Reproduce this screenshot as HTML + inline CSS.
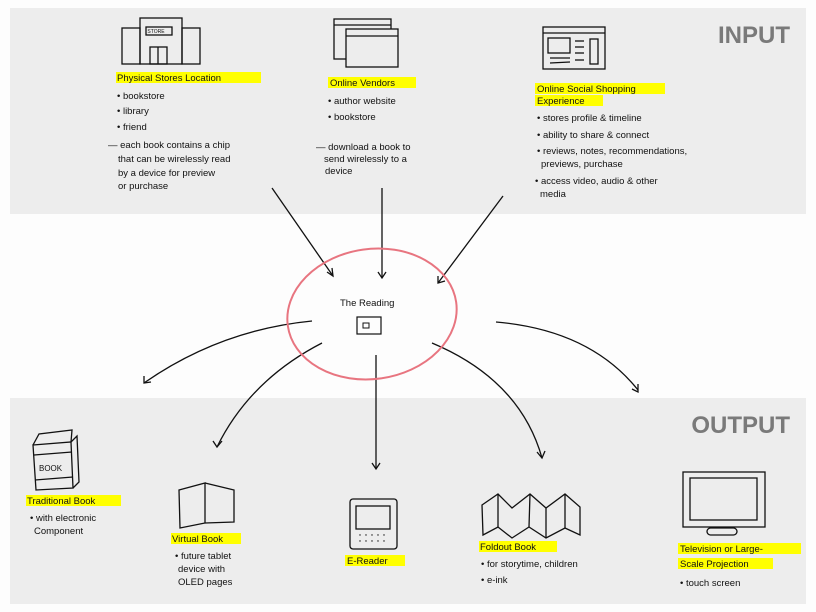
<!DOCTYPE html>
<html><head><meta charset="utf-8"><style>
html,body{margin:0;padding:0;background:#fff;}
svg{display:block}
text{font-family:"Liberation Sans",sans-serif;fill:#111;}
.t{font-size:9.5px;}
</style></head><body>
<svg width="816" height="612" viewBox="0 0 816 612" xmlns="http://www.w3.org/2000/svg">
<rect width="816" height="612" fill="#fdfdfd"/>
<rect x="10" y="8" width="796" height="206" fill="#ededed"/>
<rect x="10" y="398" width="796" height="206" fill="#ededed"/>
<text x="790" y="43" text-anchor="end" style="font-size:24px;font-weight:bold;fill:#7a7a7a;font-family:'Liberation Sans Narrow','Liberation Sans',sans-serif">INPUT</text>
<text x="790" y="433" text-anchor="end" style="font-size:24px;font-weight:bold;fill:#7a7a7a;font-family:'Liberation Sans Narrow','Liberation Sans',sans-serif">OUTPUT</text>
<g fill="none" stroke="#111" stroke-width="1.3">
<!-- store -->
<rect x="122" y="28" width="18" height="36"/><rect x="140" y="18" width="42" height="46"/><rect x="182" y="28" width="18" height="36"/>
<rect x="146" y="27" width="26" height="8"/><rect x="150" y="47" width="17" height="17"/><line x1="158" y1="47" x2="158" y2="64"/>
<!-- vendors -->
<rect x="334" y="19" width="57" height="40"/><line x1="334" y1="25" x2="391" y2="25"/>
<rect x="346" y="29" width="52" height="38" fill="#ededed"/><line x1="346" y1="36" x2="398" y2="36"/>
<!-- social -->
<rect x="543" y="27" width="62" height="42"/><line x1="543" y1="33" x2="605" y2="33"/>
<rect x="548" y="38" width="22" height="15"/><rect x="590" y="39" width="8" height="25"/>
<line x1="575" y1="41" x2="584" y2="41"/><line x1="575" y1="47" x2="584" y2="47"/><line x1="575" y1="53" x2="584" y2="53"/><line x1="575" y1="60" x2="584" y2="60"/>
<line x1="550" y1="58" x2="570" y2="58"/><line x1="550" y1="63" x2="570" y2="62"/>
<!-- arrows in -->
<path d="M272 188 L333 276"/><path d="M327 272 L333 276 L332 268"/>
<path d="M382 188 L382 278"/><path d="M378 272 L382 278 L386 272"/>
<path d="M503 196 L438 283"/><path d="M438 276 L438 283 L445 281"/>
<!-- out arrows -->
<path d="M312 321 Q220 330 144 383"/><path d="M144 376 L144 383 L151 382"/>
<path d="M322 343 Q250 380 217 447"/><path d="M213 441 L217 447 L222 441"/>
<path d="M376 355 L376 469"/><path d="M372 463 L376 469 L380 463"/>
<path d="M432 343 Q520 380 542 458"/><path d="M537 452 L542 458 L545 451"/>
<path d="M496 322 Q590 330 638 390"/><path d="M632 389 L638 392 L638 384"/>
<!-- book -->
<path d="M33 445 L39 434 L72 430 L71 442"/>
<path d="M33 445 L71 442 L73 488 L36 490 Z"/>
<path d="M71 442 L77 436 L79 482 L73 488"/>
<line x1="34" y1="455" x2="72" y2="452"/><line x1="35" y1="480" x2="73" y2="477"/>
<!-- virtual book -->
<path d="M179 490 L205 483 L205 523 L180 528 Z"/><path d="M205 483 L234 490 L234 522 L205 523"/>
<!-- ereader -->
<rect x="350" y="499" width="47" height="50" rx="3"/><rect x="356" y="506" width="34" height="23"/>
<!-- foldout -->
<path d="M482 505 L498 494 L512 508 L530 494 L546 508 L565 494 L580 507 L580 535 L565 528 L546 538 L529 527 L512 538 L498 527 L483 535 Z"/>
<line x1="498" y1="494" x2="498" y2="527"/><line x1="530" y1="494" x2="529" y2="527"/><line x1="546" y1="508" x2="546" y2="538"/><line x1="565" y1="494" x2="565" y2="528"/>
<!-- tv -->
<rect x="683" y="472" width="82" height="55"/><rect x="690" y="478" width="67" height="42"/>
<rect x="707" y="528" width="30" height="7" rx="3.5"/><line x1="720" y1="527" x2="720" y2="528"/>
</g>
<g fill="#111"><circle cx="360" cy="535" r=".7"/><circle cx="366" cy="535" r=".7"/><circle cx="372" cy="535" r=".7"/><circle cx="378" cy="535" r=".7"/><circle cx="384" cy="535" r=".7"/>
<circle cx="360" cy="541" r=".7"/><circle cx="366" cy="541" r=".7"/><circle cx="372" cy="541" r=".7"/><circle cx="378" cy="541" r=".7"/><circle cx="384" cy="541" r=".7"/></g>
<text x="156" y="33" style="font-size:5px" text-anchor="middle">STORE</text>
<text x="39" y="471" style="font-size:8px">BOOK</text>
<!-- center -->
<ellipse cx="372" cy="314" rx="85" ry="65" fill="none" stroke="#e87580" stroke-width="2" transform="rotate(-8 372 314)"/>
<text x="340" y="306" class="t">The Reading</text>
<rect x="357" y="317" width="24" height="17" fill="none" stroke="#111" stroke-width="1.2"/><rect x="363" y="323" width="6" height="5" fill="none" stroke="#111"/>
<!-- highlights -->
<g fill="#ffff00">
<rect x="116" y="72" width="145" height="11"/><rect x="328" y="77" width="88" height="11"/>
<rect x="535" y="83" width="130" height="11"/><rect x="535" y="95" width="68" height="11"/>
<rect x="26" y="495" width="95" height="11"/><rect x="171" y="533" width="70" height="11"/>
<rect x="345" y="555" width="60" height="11"/><rect x="479" y="541" width="78" height="11"/>
<rect x="678" y="543" width="123" height="11"/><rect x="678" y="558" width="95" height="11"/>
</g>
<g class="t">
<text x="117" y="81">Physical Stores Location</text>
<text x="117" y="99">• bookstore</text><text x="117" y="114">• library</text><text x="117" y="130">• friend</text>
<text x="108" y="148">— each book contains a chip</text><text x="118" y="162">that can be wirelessly read</text><text x="118" y="176">by a device for preview</text><text x="118" y="189">or purchase</text>
<text x="330" y="86">Online Vendors</text>
<text x="328" y="104">• author website</text><text x="328" y="120">• bookstore</text>
<text x="316" y="150">— download a book to</text><text x="324" y="162">send wirelessly to a</text><text x="325" y="174">device</text>
<text x="537" y="92">Online Social Shopping</text><text x="537" y="104">Experience</text>
<text x="537" y="121">• stores profile &amp; timeline</text><text x="537" y="138">• ability to share &amp; connect</text>
<text x="537" y="154">• reviews, notes, recommendations,</text><text x="541" y="167">previews, purchase</text>
<text x="535" y="184">• access video, audio &amp; other</text><text x="540" y="197">media</text>
<text x="27" y="504">Traditional Book</text><text x="30" y="521">• with electronic</text><text x="34" y="534">Component</text>
<text x="172" y="542">Virtual Book</text><text x="175" y="559">• future tablet</text><text x="178" y="572">device with</text><text x="178" y="585">OLED pages</text>
<text x="347" y="564">E-Reader</text>
<text x="480" y="550">Foldout Book</text><text x="481" y="567">• for storytime, children</text><text x="481" y="583">• e-ink</text>
<text x="680" y="552">Television or Large-</text><text x="680" y="567">Scale Projection</text><text x="680" y="586">• touch screen</text>
</g>
</svg>
</body></html>
